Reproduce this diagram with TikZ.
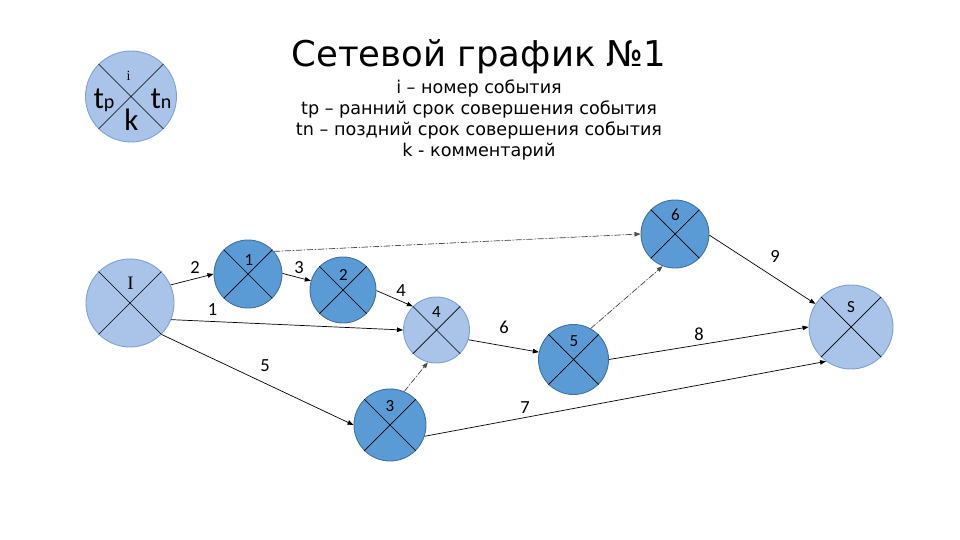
\documentclass[tikz,border=0pt]{standalone}
\usepackage{fontspec}
\newfontfamily\dejavu{DejaVu Sans}
\newfontfamily\carl{Carlito}
\newfontfamily\lserif{Liberation Serif}
\usetikzlibrary{arrows.meta}
\definecolor{darkfill}{RGB}{91,155,213}
\definecolor{darkline}{RGB}{65,113,156}
\definecolor{lightfill}{RGB}{169,196,232}
\definecolor{lightline}{RGB}{125,162,210}
\newcommand\crossit[1]{\draw[crossln] (#1.45)--(#1.225) (#1.135)--(#1.315);}
\tikzset{
 ev/.style={circle, draw=darkline, fill=darkfill, line width=0.9pt, inner sep=0pt},
 evl/.style={ev, draw=lightline, fill=lightfill},
 crossln/.style={draw=black, line width=0.7pt},
 arr/.style={-{Triangle[length=6pt,width=4.5pt]}, line width=0.7pt},
 dd/.style={arr, dash pattern=on 6pt off 2pt on 1pt off 2pt, draw=black!70, fill=black!70},
 elab/.style={font=\fontsize{18.5}{18.5}\carl, inner sep=0pt},
 ilab/.style={font=\fontsize{17}{17}\carl, inner sep=0pt},
 sub/.style={font=\fontsize{17.6}{20}\dejavu, anchor=base, inner sep=0pt},
}
\begin{document}
\begin{tikzpicture}[x=1pt,y=-1pt]
\useasboundingbox (0,0) rectangle (960,540);
% title
\node[font=\fontsize{35.5}{40}\dejavu, anchor=base, inner sep=0pt] (title) at (479,67) {Сетевой график №1};
\node[sub] (s1) at (479,94) {i – номер события};
\node[sub] (s2) at (479,115) {tp – ранний срок совершения события};
\node[sub] (s3) at (479,136) {tn – поздний срок совершения события};
\node[sub] (s4) at (479,157) {k - комментарий};
% legend
\node[evl, minimum size=91pt] (leg) at (131,96.5) {};
\crossit{leg}
\node[font=\fontsize{14}{14}\lserif, inner sep=0pt] (legi) at (128.5,76) {i};
\node[font=\fontsize{31}{31}\carl, inner sep=0pt, anchor=base] (legtp) at (104,109) {t\fontsize{20}{20}\selectfont p};
\node[font=\fontsize{31}{31}\carl, inner sep=0pt, anchor=base] (legtn) at (161,109) {t\fontsize{20}{20}\selectfont n};
\node[font=\fontsize{31}{31}\carl, inner sep=0pt, anchor=base] (legk) at (131.5,131) {k};
% events
\node[evl, minimum size=88pt] (nI) at (130,303) {};
\node[ev, minimum size=68pt] (n1) at (248,274) {};
\node[ev, minimum size=66pt] (n2) at (343,290) {};
\node[evl, minimum size=66pt] (n4) at (436.5,330) {};
\node[ev, minimum size=72pt] (n3) at (390,425) {};
\node[ev, minimum size=70pt] (n5) at (573.5,359.5) {};
\node[ev, minimum size=68pt] (n6) at (675,234) {};
\node[evl, minimum size=84pt] (nS) at (851,327) {};
\crossit{nI}\crossit{n1}\crossit{n2}\crossit{n4}\crossit{n3}\crossit{n5}\crossit{n6}\crossit{nS}
\node[font=\fontsize{19}{19}\lserif, inner sep=0pt] (lI) at (130.5,283.5) {I};
\node[ilab] (l1) at (249,260) {1};
\node[ilab] (l2) at (343.5,275) {2};
\node[ilab] (l4) at (436.5,312) {4};
\node[ilab] (l3) at (390,406) {3};
\node[ilab] (l5) at (574,341.5) {5};
\node[ilab] (l6) at (675.5,215) {6};
\node[ilab] (lS) at (851,307.5) {S};
% connectors
\draw[arr] (nI.24) -- (n1.180);
\draw[arr] (n1.1) -- (n2.164);
\draw[arr] (nI.-22) -- (n4.180);
\draw[arr] (n2.-1) -- (n4.135);
\draw[arr] (nI.-45) -- (n3.180);
\draw[dd] (n3.67) -- (n4.255);
\draw[arr] (n4.-17) -- (n5.168);
\draw[dd] (n5.61) -- (n6.249);
\draw[dd] (n1.41) -- (n6.180);
\draw[arr] (n5.0) -- (nS.180);
\draw[arr] (n3.-18) -- (nS.234);
\draw[arr] (n6.-2) -- (nS.147);
% connector labels
\node[elab] (e2) at (195,267) {2};
\node[elab] (e3) at (299,267.5) {3};
\node[elab] (e1) at (212.5,310) {1};
\node[elab] (e5) at (265,366) {5};
\node[elab] (e4) at (401,290.5) {4};
\node[elab] (e6) at (504,327) {6};
\node[elab] (e8) at (699,334) {8};
\node[elab] (e7) at (525,407.5) {7};
\node[elab] (e9) at (775,256) {9};
\end{tikzpicture}
\end{document}
